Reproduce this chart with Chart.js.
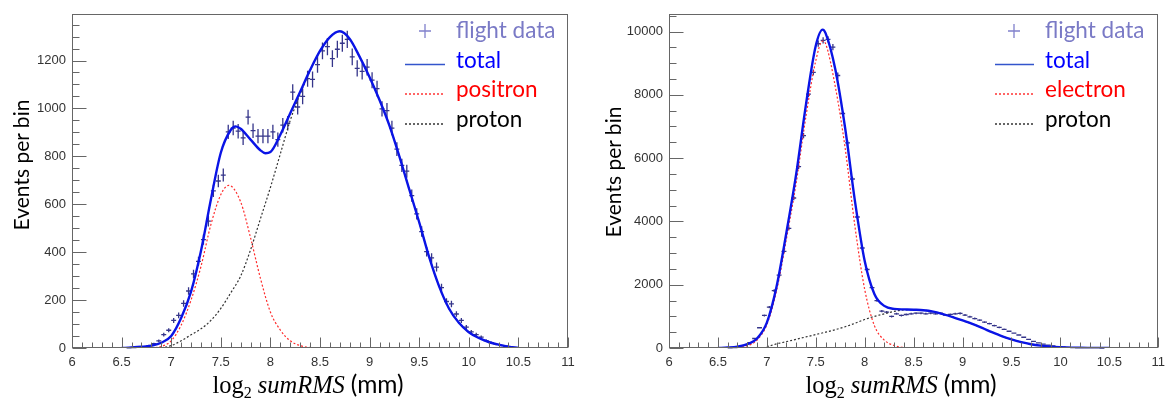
<!DOCTYPE html>
<html><head><meta charset="utf-8">
<script src="https://cdn.jsdelivr.net/npm/chart.js@4/dist/chart.umd.min.js"></script>
<style>
html,body{margin:0;padding:0;background:#fff;}
#wrap{position:relative;width:1172px;height:406px;overflow:hidden;background:#fff;}
canvas{position:absolute;top:0;}
#ov{position:absolute;left:0;top:0;pointer-events:none;}
</style></head>
<body>
<div id="wrap">
<canvas id="cL" width="586" height="406" style="left:0"></canvas>
<canvas id="cR" width="586" height="406" style="left:586px"></canvas>
<svg id="ov" width="1172" height="406" xmlns="http://www.w3.org/2000/svg">
 <g font-family="Lato, 'Open Sans', sans-serif" font-size="21" fill="#000">
  <text transform="translate(29,165) rotate(-90)" text-anchor="middle">Events per bin</text>
  <text transform="translate(621,172) rotate(-90)" text-anchor="middle">Events per bin</text>
 </g>
 <text x="308" y="393" text-anchor="middle" font-size="24.5" fill="#000"><tspan font-family="'Liberation Serif', serif">log</tspan><tspan font-family="'Liberation Serif', serif" font-size="16" dy="5">2</tspan><tspan dy="-5" dx="6" font-family="'Liberation Serif', serif" font-style="italic">sumRMS</tspan><tspan dx="6" font-family="Lato, sans-serif">(mm)</tspan></text>
 <text x="901" y="393" text-anchor="middle" font-size="24.5" fill="#000"><tspan font-family="'Liberation Serif', serif">log</tspan><tspan font-family="'Liberation Serif', serif" font-size="16" dy="5">2</tspan><tspan dy="-5" dx="6" font-family="'Liberation Serif', serif" font-style="italic">sumRMS</tspan><tspan dx="6" font-family="Lato, sans-serif">(mm)</tspan></text>
 <g font-family="Lato, 'Open Sans', sans-serif" font-size="22.5">
  <text x="456" y="38" fill="#7a7ac6">flight data</text>
  <text x="456" y="68" fill="#0000ff">total</text>
  <text x="456" y="97" fill="#ff0000">positron</text>
  <text x="456" y="127" fill="#000">proton</text>
  <text x="1045" y="38" fill="#7a7ac6">flight data</text>
  <text x="1045" y="68" fill="#0000ff">total</text>
  <text x="1045" y="97" fill="#ff0000">electron</text>
  <text x="1045" y="127" fill="#000">proton</text>
 </g>
 <path d="M425 24 V38 M419 31 H431 M1014 24 V38 M1008 31 H1020" stroke="#8080cc" stroke-width="1.3" fill="none"/>
 <line x1="405" y1="64.5" x2="445" y2="64.5" stroke="#3355cc" stroke-width="1.5"/>
 <line x1="405" y1="94" x2="445" y2="94" stroke="#ff3333" stroke-width="1.3" stroke-dasharray="2 2"/>
 <line x1="405" y1="124" x2="445" y2="124" stroke="#333" stroke-width="1.3" stroke-dasharray="2 2"/>
 <line x1="995" y1="64.5" x2="1034" y2="64.5" stroke="#3355cc" stroke-width="1.5"/>
 <line x1="995" y1="94" x2="1034" y2="94" stroke="#ff3333" stroke-width="1.3" stroke-dasharray="2 2"/>
 <line x1="995" y1="124" x2="1034" y2="124" stroke="#333" stroke-width="1.3" stroke-dasharray="2 2"/>
</svg>
</div>
<script>
// ---------- DATA ----------
const binHalfWidth = 0.025;
const xTickLabels = [6, 6.5, 7, 7.5, 8, 8.5, 9, 9.5, 10, 10.5, 11];
const yTickLabelsL = [0, 200, 400, 600, 800, 1000, 1200];
const yTickLabelsR = [0, 2000, 4000, 6000, 8000, 10000];

// Left panel (positron selection): flight data
const binsL = [6.575,6.625,6.675,6.725,6.775,6.825,6.875,6.925,6.975,
 7.025,7.075,7.125,7.175,7.225,7.275,7.325,7.375,7.425,7.475,
 7.525,7.575,7.625,7.675,7.725,7.775,7.825,7.875,7.925,7.975,
 8.025,8.075,8.125,8.175,8.225,8.275,8.325,8.375,8.425,8.475,
 8.525,8.575,8.625,8.675,8.725,8.775,8.825,8.875,8.925,8.975,
 9.025,9.075,9.125,9.175,9.225,9.275,9.325,9.375,9.425,9.475,
 9.525,9.575,9.625,9.675,9.725,9.775,9.825,9.875,9.925,9.975,
 10.025,10.075,10.125,10.175,10.225,10.275,10.325,10.375,10.425];
const countsL = [1,2,3,6,10,18,30,56,74,
 115,136,186,238,309,362,452,530,656,697,
 722,902,918,905,877,964,907,884,884,884,
 902,870,930,938,1068,1006,1050,1124,1121,1183,
 1240,1258,1208,1247,1272,1288,1215,1167,1155,1172,
 1118,1083,998,991,918,830,762,738,636,560,
 486,402,376,338,252,194,184,142,115,87,
 67,56,45,31,22,15,11,8,5];
const errorsL = [1,1.4,1.7,2.4,3.2,4.2,5.5,7.5,8.6,
 10.7,11.7,13.6,15.4,17.6,19,21.3,23,25.6,26.4,
 26.9,30,30.3,30.1,29.6,31,30.1,29.7,29.7,29.7,
 30,29.5,30.5,30.6,32.7,31.7,32.4,33.5,33.5,34.4,
 35.2,35.5,34.8,35.3,35.7,35.9,34.9,34.2,34,34.2,
 33.4,32.9,31.6,31.5,30.3,28.8,27.6,27.2,25.2,23.7,
 22,20,19.4,18.4,15.9,13.9,13.6,11.9,10.7,9.3,
 8.2,7.5,6.7,5.6,4.7,3.9,3.3,2.8,2.2];

// Left panel fit curves
const totalXL = [6.5,6.6,6.7,6.8,6.9,7.0,7.1,7.2,7.3,7.4,7.5,7.6,7.65,7.7,7.8,7.9,7.95,8.0,8.1,8.2,8.3,8.4,8.5,8.6,8.7,8.8,8.9,9.0,9.1,9.2,9.3,9.4,9.5,9.6,9.7,9.8,9.9,10.0,10.1,10.2,10.3,10.4,10.5];
const totalL  = [0,2,5,10,22,50,125,235,405,620,815,910,925,915,870,825,813,818,890,980,1070,1160,1240,1298,1322,1290,1215,1130,1035,928,800,662,525,380,258,165,105,66,42,25,14,6,0];
const positronX = [6.8,6.9,7.0,7.1,7.2,7.3,7.4,7.5,7.58,7.7,7.8,7.9,8.0,8.1,8.2,8.3,8.4,8.5];
const positron  = [0,6,30,95,200,340,515,640,679,610,460,290,150,75,30,10,2,0];
const protonXL = [6.9,7.0,7.1,7.2,7.3,7.4,7.5,7.6,7.7,7.8,7.9,8.0,8.1,8.2,8.3,8.4,8.5,8.6,8.7,8.8,8.9,9.0,9.1,9.2,9.3,9.4,9.5,9.6,9.7,9.8,9.9,10.0,10.1,10.2,10.3,10.4,10.5];
const protonL  = [0,10,30,55,80,115,165,230,300,410,540,670,810,950,1060,1157,1240,1298,1322,1290,1215,1130,1035,928,800,662,525,380,258,165,105,66,42,25,14,6,0];

// Right panel (electron selection): flight data
const binsR = [6.625,6.675,6.725,6.775,6.825,6.875,6.925,6.975,
 7.025,7.075,7.125,7.175,7.225,7.275,7.325,7.375,7.425,7.475,
 7.525,7.575,7.625,7.675,7.725,7.775,7.825,7.875,7.925,7.975,
 8.025,8.075,8.125,8.175,8.225,8.275,8.325,8.375,8.425,8.475,
 8.525,8.575,8.625,8.675,8.725,8.775,8.825,8.875,8.925,8.975,
 9.025,9.075,9.125,9.175,9.225,9.275,9.325,9.375,9.425,9.475,
 9.525,9.575,9.625,9.675,9.725,9.775,9.825,9.875,9.925,9.975,
 10.025,10.075,10.125,10.175,10.225,10.275,10.325,10.375,10.425];
const countsR = [5,10,30,80,170,300,640,1030,
 1290,1810,2300,3050,3780,4740,5730,6710,8020,8710,
 9620,9720,9750,9510,8610,7410,6480,5340,4140,3160,
 2480,1910,1500,1163,1132,997,1080,1028,1059,1080,
 1100,1100,1080,1100,1080,1100,1040,1060,1080,1095,
 1040,985,930,880,820,770,710,650,590,530,
 470,410,340,270,210,160,120,90,65,45,
 30,20,12,8,5,3,2,1,0];
const errorsR = [2,3,5,9,13,17,25,32,
 36,43,48,55,61,69,76,82,90,93,
 98,99,99,98,93,86,80,73,64,56,
 50,44,39,34,34,32,33,32,33,33,
 33,33,33,33,33,33,32,33,33,33,
 32,31,30,30,29,28,27,26,24,23,
 22,20,18,16,14,13,11,9,8,7,
 5,4,3,3,2,2,1,1,0];

// Right panel fit curves
const totalXR = [6.5,6.6,6.7,6.8,6.9,7.0,7.1,7.2,7.3,7.4,7.5,7.57,7.6,7.7,7.8,7.9,8.0,8.1,8.2,8.3,8.4,8.5,8.6,8.7,8.8,8.9,9.0,9.1,9.2,9.3,9.4,9.5,9.6,9.7,9.8,9.9,10.0,10.1,10.2,10.3,10.4,10.5];
const totalR  = [0,15,45,120,300,800,1950,3650,5500,7700,9550,10060,9950,8800,6950,4650,2750,1700,1330,1235,1220,1210,1195,1150,1070,976,870,760,635,500,375,270,185,120,75,43,25,13,6,3,1,0];
const electronX = [6.5,6.6,6.7,6.8,6.9,7.0,7.1,7.2,7.3,7.4,7.5,7.57,7.6,7.7,7.8,7.9,8.0,8.1,8.2,8.3,8.4,8.5];
const electron  = [0,5,20,70,250,740,1820,3450,5220,7330,9080,9700,9620,8250,6320,3850,1850,700,250,80,15,0];
const protonXR = [7.0,7.1,7.2,7.3,7.4,7.5,7.6,7.7,7.8,7.9,8.0,8.1,8.2,8.3,8.4,8.5,8.6,8.7,8.8,8.9,9.0,9.1,9.2,9.3,9.4,9.5,9.6,9.7,9.8,9.9,10.0,10.1,10.2,10.3,10.4,10.5];
const protonR  = [40,130,200,275,350,425,500,580,670,780,900,1000,1080,1155,1205,1210,1195,1150,1070,976,870,760,635,500,375,270,185,120,75,43,25,13,6,3,1,0];

// ---------- RENDER ----------
const pairs = (xs, ys) => xs.map((x, i) => ({x: x, y: ys[i]}));

const errorBars = {
  id: 'errorBars',
  beforeDatasetsDraw(chart) {
    const ds = chart.data.datasets[0];
    const {ctx, scales: {x, y}} = chart;
    ctx.save();
    ctx.strokeStyle = ds.borderColor;
    ctx.lineWidth = 1.3;
    ctx.beginPath();
    ds.data.forEach((p, i) => {
      const e = ds.errors[i] || 0;
      const px = x.getPixelForValue(p.x), py = y.getPixelForValue(p.y);
      const x1 = x.getPixelForValue(p.x - binHalfWidth), x2 = x.getPixelForValue(p.x + binHalfWidth);
      const y1 = y.getPixelForValue(p.y - e), y2 = y.getPixelForValue(p.y + e);
      ctx.moveTo(x1, py); ctx.lineTo(x2, py);
      ctx.moveTo(px, Math.min(y1, y.bottom)); ctx.lineTo(px, y2);
    });
    ctx.stroke();
    ctx.restore();
  }
};

const frameTicks = {
  id: 'frameTicks',
  afterDatasetsDraw(chart, args, opts) {
    const {ctx, chartArea: a, scales: {x, y}} = chart;
    ctx.save();
    ctx.strokeStyle = '#666';
    ctx.lineWidth = 1;
    const L = Math.round(a.left) + 0.5, R = Math.round(a.right) - 0.5;
    const T = Math.round(a.top) + 0.5, B = Math.round(a.bottom) - 0.5;
    ctx.strokeRect(L, T, R - L, B - T);
    ctx.beginPath();
    for (let i = 0; ; i++) {
      const v = x.min + i * opts.xMinor;
      if (v > x.max + 1e-9) break;
      const px = Math.round(x.getPixelForValue(v)) + 0.5;
      const len = (i % opts.xPer === 0) ? 10 : 5;
      ctx.moveTo(px, B); ctx.lineTo(px, B - len);
    }
    for (let i = 0; ; i++) {
      const v = y.min + i * opts.yMinor;
      if (v > y.max + 1e-9) break;
      const py = Math.round(y.getPixelForValue(v)) + 0.5;
      const len = (i % opts.yPer === 0) ? 14 : 7;
      ctx.moveTo(L, py); ctx.lineTo(L + len, py);
    }
    ctx.stroke();
    ctx.restore();
  }
};

function makeChart(id, bins, counts, errs, curves, yMax, yTicks, yWidth, pad, tickOpts) {
  const tickFont = {family: "'Liberation Sans', Arial, sans-serif", size: 13};
  return new Chart(document.getElementById(id), {
    type: 'scatter',
    data: {
      datasets: [
        {label: 'flight data', data: pairs(bins, counts), errors: errs, borderColor: '#35358a',
         backgroundColor: '#35358a', pointRadius: 0, showLine: false, order: 10},
        ...curves
      ]
    },
    options: {
      responsive: false,
      animation: false,
      devicePixelRatio: 1,
      layout: {padding: pad},
      plugins: {legend: {display: false}, tooltip: {enabled: false}, frameTicks: tickOpts},
      elements: {point: {radius: 0}},
      scales: {
        x: {
          type: 'linear', min: 6, max: 11,
          afterFit: s => { s.height = 58; },
          afterBuildTicks: s => { s.ticks = xTickLabels.map(v => ({value: v})); },
          grid: {display: false, drawTicks: false},
          border: {display: false},
          ticks: {font: tickFont, color: '#333', padding: 7, maxRotation: 0, autoSkip: false,
                  callback: v => String(v)}
        },
        y: {
          type: 'linear', min: 0, max: yMax,
          afterFit: s => { s.width = yWidth; },
          afterBuildTicks: s => { s.ticks = yTicks.map(v => ({value: v})); },
          grid: {display: false, drawTicks: false},
          border: {display: false},
          ticks: {font: tickFont, color: '#333', padding: 6, autoSkip: false,
                  callback: v => String(v)}
        }
      }
    },
    plugins: [errorBars, frameTicks]
  });
}

const curveStyle = (label, xs, ys, color, width, dash, order) => ({
  label: label, data: pairs(xs, ys), showLine: true, borderColor: color, borderWidth: width,
  borderDash: dash, pointRadius: 0, tension: 0.4, cubicInterpolationMode: 'monotone', fill: false, order: order
});

makeChart('cL', binsL, countsL, errorsL, [
  curveStyle('proton', protonXL, protonL, '#333333', 1.2, [2, 2], 3),
  curveStyle('positron', positronX, positron, '#ff2a2a', 1.2, [2, 2], 2),
  curveStyle('total', totalXL, totalL, '#0a14e6', 2.4, [], 1)
], 1395, yTickLabelsL, 72, {left: 0, top: 8, right: 18, bottom: 0},
  {xMinor: 0.1, xPer: 5, yMinor: 50, yPer: 4});

makeChart('cR', binsR, countsR, errorsR, [
  curveStyle('proton', protonXR, protonR, '#333333', 1.2, [2, 2], 3),
  curveStyle('electron', electronX, electron, '#ff2a2a', 1.2, [2, 2], 2),
  curveStyle('total', totalXR, totalR, '#0a14e6', 2.4, [], 1)
], 10560, yTickLabelsR, 83, {left: 0, top: 9, right: 7, bottom: 0},
  {xMinor: 0.1, xPer: 5, yMinor: 500, yPer: 4});
</script>
</body></html>
